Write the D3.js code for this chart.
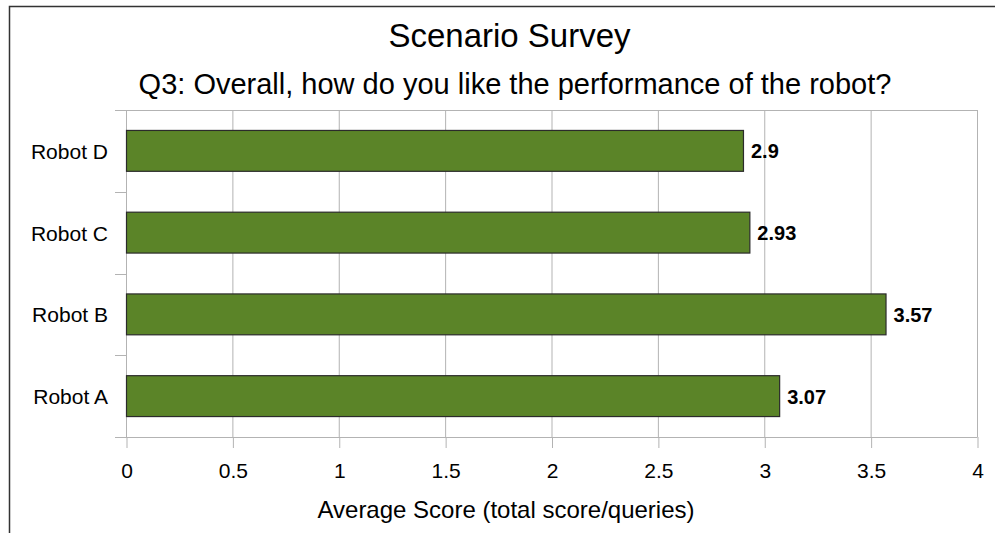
<!DOCTYPE html>
<html>
<head>
<meta charset="utf-8">
<script src="https://cdn.jsdelivr.net/npm/d3@7"></script>
<style>
  body { margin: 0; background: #fff; }
  svg text { font-family: "Liberation Sans", Arial, sans-serif; fill: #000; }
  .grid line { stroke: #b3b3b3; stroke-width: 1; }
  .axis path { display: none; }
  .axis line { stroke: #b3b3b3; }
</style>
</head>
<body>
<script>
// chart values
var categories = ["Robot A", "Robot B", "Robot C", "Robot D"];
var scores = [3.07, 3.57, 2.93, 2.9];
var valueLabels = ["3.07", "3.57", "2.93", "2.9"];
var xTicks = [0, 0.5, 1, 1.5, 2, 2.5, 3, 3.5, 4];
var xTickLabels = ["0", "0.5", "1", "1.5", "2", "2.5", "3", "3.5", "4"];

var data = categories.map(function (c, i) {
  return { name: c, value: scores[i], label: valueLabels[i] };
});

var W = 995, H = 533;
var plot = { left: 126, right: 977, top: 110, bottom: 437 };

var svg = d3.select("body").append("svg")
    .attr("width", W)
    .attr("height", H);

// outer frame (only top and left edges visible in the picture)
svg.append("path")
    .attr("d", "M9.5," + H + "V6.5H" + W)
    .attr("fill", "none")
    .attr("stroke", "#333")
    .attr("stroke-width", 1.5);

var x = d3.scaleLinear().domain([0, 4]).range([plot.left, plot.right]);
var y = d3.scaleBand()
    .domain(categories.slice().reverse())
    .range([plot.top, plot.bottom])
    .paddingInner(0.5)
    .paddingOuter(0.25);

// vertical gridlines
svg.append("g").attr("class", "grid")
  .selectAll("line")
  .data(xTicks)
  .enter().append("line")
    .attr("x1", function (d) { return x(d) + 0.5; })
    .attr("x2", function (d) { return x(d) + 0.5; })
    .attr("y1", plot.top)
    .attr("y2", plot.bottom);

// top and bottom boundaries + category ticks at band edges
var edges = d3.range(categories.length + 1).map(function (i) {
  return plot.top + i * y.step();
});
var g = svg.append("g").attr("class", "grid");
g.selectAll("line.edge")
  .data(edges)
  .enter().append("line")
    .attr("class", "edge")
    .attr("x1", plot.left - 11)
    .attr("x2", function (d, i) { return (i === 0 || i === categories.length) ? plot.right + 0.5 : plot.left; })
    .attr("y1", function (d) { return Math.round(d) + 0.5; })
    .attr("y2", function (d) { return Math.round(d) + 0.5; });

// bottom axis
svg.append("g")
    .attr("class", "axis")
    .attr("transform", "translate(0.5," + plot.bottom + ")")
    .call(d3.axisBottom(x)
      .tickValues(xTicks)
      .tickFormat(function (d, i) { return xTickLabels[i]; })
      .tickSize(11)
      .tickPadding(15))
  .selectAll("text")
    .style("font-size", "21px");

// left axis labels
svg.append("g")
    .attr("class", "axis")
    .attr("transform", "translate(" + plot.left + ",0)")
    .call(d3.axisLeft(y).tickSize(0).tickPadding(18))
  .selectAll("text")
    .style("font-size", "21px")
    .attr("dy", "0.38em");

// bars
svg.selectAll("rect.bar")
  .data(data)
  .enter().append("rect")
    .attr("class", "bar")
    .attr("x", x(0) + 0.5)
    .attr("y", function (d) { return y(d.name); })
    .attr("width", function (d) { return x(d.value) - x(0); })
    .attr("height", y.bandwidth())
    .attr("fill", "#5b8428")
    .attr("stroke", "#2b2b2b")
    .attr("stroke-width", 1.2);

// value labels
svg.selectAll("text.val")
  .data(data)
  .enter().append("text")
    .attr("class", "val")
    .attr("x", function (d) { return x(d.value) + 8; })
    .attr("y", function (d) { return y(d.name) + y.bandwidth() / 2; })
    .attr("dy", "0.38em")
    .style("font-size", "20px")
    .style("font-weight", "bold")
    .text(function (d) { return d.label; });

// titles
svg.append("text")
    .attr("x", (plot.left + plot.right) / 2 - 42)
    .attr("y", 47)
    .attr("text-anchor", "middle")
    .style("font-size", "33px")
    .text("Scenario Survey");

svg.append("text")
    .attr("x", 515)
    .attr("y", 94)
    .attr("text-anchor", "middle")
    .style("font-size", "29px")
    .text("Q3: Overall, how do you like the performance of the robot?");

svg.append("text")
    .attr("x", 506)
    .attr("y", 518)
    .attr("text-anchor", "middle")
    .style("font-size", "24px")
    .text("Average Score (total score/queries)");
</script>
</body>
</html>
